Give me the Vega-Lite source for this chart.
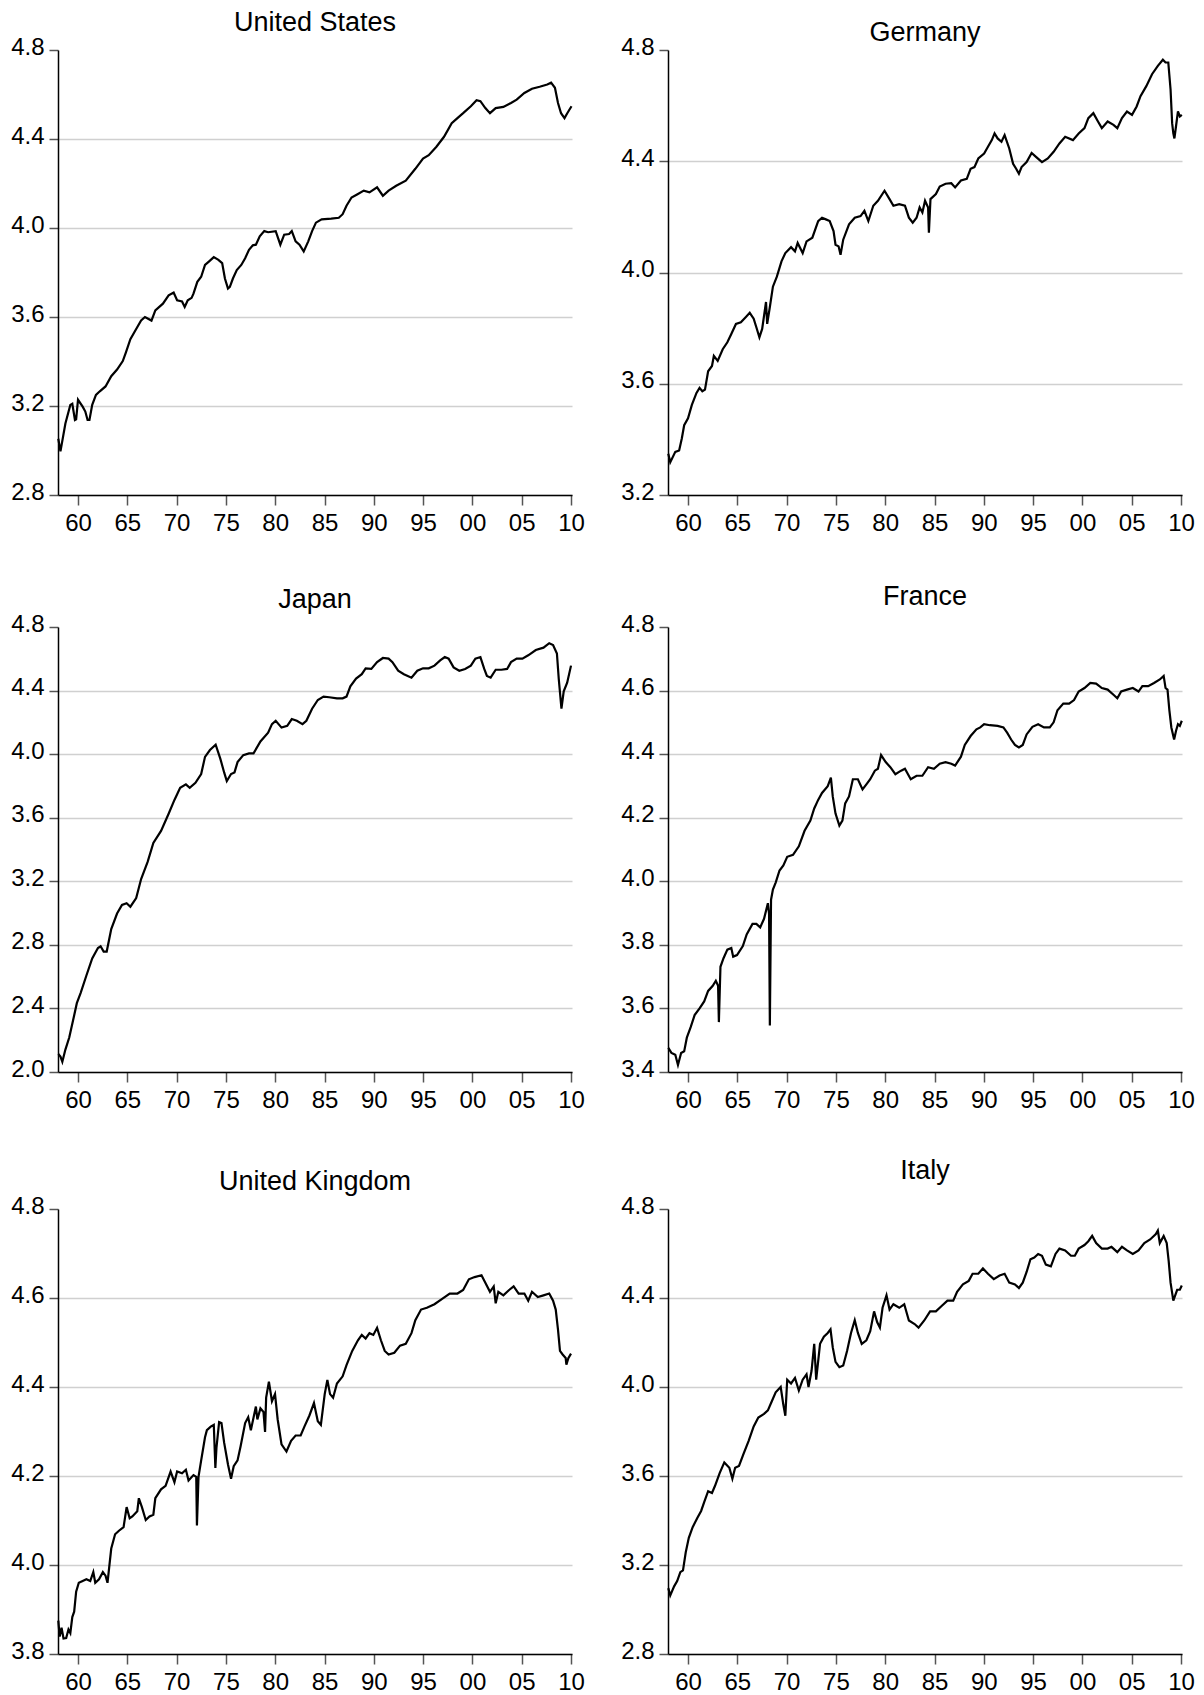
{
"$schema": "https://vega.github.io/schema/vega-lite/v6.json",
"background": "white",
"padding": {"left": 10, "top": 8, "right": 0, "bottom": 0},
"config": {
  "view": {"stroke": null},
  "font": "Liberation Sans",
  "title": {"font": "Liberation Sans", "fontSize": 27, "fontWeight": "normal", "color": "#000", "anchor": "middle", "frame": "group", "baseline": "alphabetic"},
  "axis": {"labelFont": "Liberation Sans", "labelFontSize": 24, "labelColor": "#000", "domainColor": "#000", "domainWidth": 1.5, "tickColor": "#555", "tickWidth": 1.5, "gridColor": "#d0d0d0", "gridWidth": 1.5, "labelFlush": false, "labelOverlap": false},
  "axisX": {"grid": false, "tickSize": 10, "labelPadding": 6.5},
  "axisY": {"tickSize": 9, "labelPadding": 5, "labelOffset": -3},
  "line": {"color": "#000", "strokeWidth": 2.2}
},
"datasets": {
"us": [{"t":1958.0,"v":3.053},{"t":1958.22,"v":2.996},{"t":1958.72,"v":3.121},{"t":1959.22,"v":3.205},{"t":1959.42,"v":3.21},{"t":1959.69,"v":3.137},{"t":1959.81,"v":3.14},{"t":1960.0,"v":3.228},{"t":1960.47,"v":3.197},{"t":1960.74,"v":3.175},{"t":1960.97,"v":3.137},{"t":1961.16,"v":3.137},{"t":1961.44,"v":3.205},{"t":1961.82,"v":3.25},{"t":1962.21,"v":3.266},{"t":1962.79,"v":3.288},{"t":1963.37,"v":3.334},{"t":1963.96,"v":3.364},{"t":1964.54,"v":3.402},{"t":1964.85,"v":3.44},{"t":1965.31,"v":3.5},{"t":1965.9,"v":3.546},{"t":1966.4,"v":3.584},{"t":1966.79,"v":3.6},{"t":1967.45,"v":3.584},{"t":1967.84,"v":3.63},{"t":1968.61,"v":3.66},{"t":1969.19,"v":3.697},{"t":1969.7,"v":3.71},{"t":1970.05,"v":3.675},{"t":1970.55,"v":3.67},{"t":1970.82,"v":3.645},{"t":1971.13,"v":3.675},{"t":1971.52,"v":3.686},{"t":1971.71,"v":3.705},{"t":1972.1,"v":3.758},{"t":1972.49,"v":3.781},{"t":1972.88,"v":3.834},{"t":1973.27,"v":3.849},{"t":1973.77,"v":3.869},{"t":1974.24,"v":3.857},{"t":1974.62,"v":3.842},{"t":1974.9,"v":3.773},{"t":1975.21,"v":3.728},{"t":1975.4,"v":3.735},{"t":1975.71,"v":3.773},{"t":1976.1,"v":3.811},{"t":1976.56,"v":3.834},{"t":1976.95,"v":3.864},{"t":1977.34,"v":3.902},{"t":1977.73,"v":3.922},{"t":1978.04,"v":3.925},{"t":1978.43,"v":3.963},{"t":1978.89,"v":3.986},{"t":1979.28,"v":3.981},{"t":1980.05,"v":3.986},{"t":1980.52,"v":3.925},{"t":1980.91,"v":3.97},{"t":1981.41,"v":3.973},{"t":1981.68,"v":3.986},{"t":1982.07,"v":3.94},{"t":1982.46,"v":3.925},{"t":1982.89,"v":3.895},{"t":1983.35,"v":3.94},{"t":1983.74,"v":3.986},{"t":1984.13,"v":4.024},{"t":1984.71,"v":4.039},{"t":1985.68,"v":4.042},{"t":1986.45,"v":4.046},{"t":1986.84,"v":4.062},{"t":1987.23,"v":4.1},{"t":1987.74,"v":4.137},{"t":1988.39,"v":4.153},{"t":1988.98,"v":4.168},{"t":1989.56,"v":4.16},{"t":1990.33,"v":4.183},{"t":1990.92,"v":4.145},{"t":1991.5,"v":4.168},{"t":1992.27,"v":4.19},{"t":1993.24,"v":4.213},{"t":1994.21,"v":4.266},{"t":1994.99,"v":4.312},{"t":1995.57,"v":4.327},{"t":1996.35,"v":4.365},{"t":1997.12,"v":4.41},{"t":1997.9,"v":4.471},{"t":1998.48,"v":4.494},{"t":1999.06,"v":4.516},{"t":1999.84,"v":4.547},{"t":2000.42,"v":4.574},{"t":2000.81,"v":4.57},{"t":2001.31,"v":4.539},{"t":2001.78,"v":4.516},{"t":2002.36,"v":4.539},{"t":2003.14,"v":4.544},{"t":2003.91,"v":4.562},{"t":2004.49,"v":4.577},{"t":2005.27,"v":4.607},{"t":2006.04,"v":4.626},{"t":2006.82,"v":4.635},{"t":2007.59,"v":4.645},{"t":2007.98,"v":4.653},{"t":2008.37,"v":4.63},{"t":2008.68,"v":4.562},{"t":2008.99,"v":4.516},{"t":2009.34,"v":4.494},{"t":2009.62,"v":4.516},{"t":2010.05,"v":4.547}],
"de": [{"t":1958.0,"v":3.348},{"t":1958.2,"v":3.318},{"t":1958.71,"v":3.355},{"t":1959.1,"v":3.36},{"t":1959.37,"v":3.403},{"t":1959.61,"v":3.451},{"t":1960.0,"v":3.476},{"t":1960.39,"v":3.524},{"t":1960.86,"v":3.567},{"t":1961.17,"v":3.585},{"t":1961.45,"v":3.573},{"t":1961.72,"v":3.579},{"t":1962.04,"v":3.645},{"t":1962.43,"v":3.664},{"t":1962.62,"v":3.7},{"t":1963.01,"v":3.682},{"t":1963.52,"v":3.724},{"t":1963.99,"v":3.749},{"t":1964.39,"v":3.779},{"t":1964.86,"v":3.815},{"t":1965.36,"v":3.821},{"t":1965.87,"v":3.84},{"t":1966.26,"v":3.855},{"t":1966.66,"v":3.834},{"t":1966.93,"v":3.803},{"t":1967.24,"v":3.767},{"t":1967.52,"v":3.797},{"t":1967.91,"v":3.894},{"t":1968.03,"v":3.815},{"t":1968.3,"v":3.876},{"t":1968.61,"v":3.949},{"t":1969.01,"v":3.985},{"t":1969.48,"v":4.04},{"t":1969.87,"v":4.07},{"t":1970.45,"v":4.091},{"t":1970.85,"v":4.076},{"t":1971.12,"v":4.106},{"t":1971.63,"v":4.07},{"t":1972.02,"v":4.112},{"t":1972.61,"v":4.125},{"t":1973.2,"v":4.185},{"t":1973.59,"v":4.197},{"t":1973.98,"v":4.191},{"t":1974.37,"v":4.185},{"t":1974.76,"v":4.149},{"t":1974.96,"v":4.1},{"t":1975.27,"v":4.094},{"t":1975.47,"v":4.064},{"t":1975.74,"v":4.118},{"t":1976.33,"v":4.173},{"t":1976.91,"v":4.197},{"t":1977.5,"v":4.203},{"t":1977.89,"v":4.222},{"t":1978.29,"v":4.185},{"t":1978.79,"v":4.24},{"t":1979.26,"v":4.258},{"t":1979.93,"v":4.294},{"t":1980.44,"v":4.264},{"t":1980.83,"v":4.24},{"t":1981.42,"v":4.246},{"t":1982.0,"v":4.24},{"t":1982.4,"v":4.197},{"t":1982.79,"v":4.179},{"t":1983.18,"v":4.197},{"t":1983.49,"v":4.234},{"t":1983.77,"v":4.216},{"t":1984.04,"v":4.258},{"t":1984.35,"v":4.234},{"t":1984.43,"v":4.143},{"t":1984.59,"v":4.264},{"t":1985.14,"v":4.282},{"t":1985.53,"v":4.309},{"t":1986.12,"v":4.319},{"t":1986.7,"v":4.321},{"t":1987.09,"v":4.306},{"t":1987.68,"v":4.331},{"t":1988.27,"v":4.337},{"t":1988.66,"v":4.373},{"t":1989.05,"v":4.379},{"t":1989.44,"v":4.41},{"t":1990.03,"v":4.428},{"t":1990.42,"v":4.452},{"t":1990.81,"v":4.476},{"t":1991.09,"v":4.5},{"t":1991.4,"v":4.482},{"t":1991.79,"v":4.47},{"t":1992.11,"v":4.494},{"t":1992.58,"v":4.446},{"t":1992.97,"v":4.391},{"t":1993.28,"v":4.373},{"t":1993.56,"v":4.355},{"t":1993.83,"v":4.379},{"t":1994.34,"v":4.397},{"t":1994.85,"v":4.43},{"t":1995.32,"v":4.415},{"t":1995.9,"v":4.397},{"t":1996.49,"v":4.41},{"t":1997.08,"v":4.434},{"t":1997.67,"v":4.464},{"t":1998.25,"v":4.488},{"t":1999.04,"v":4.476},{"t":1999.62,"v":4.5},{"t":2000.21,"v":4.519},{"t":2000.6,"v":4.555},{"t":2001.11,"v":4.573},{"t":2001.58,"v":4.543},{"t":2001.97,"v":4.519},{"t":2002.56,"v":4.543},{"t":2003.15,"v":4.531},{"t":2003.54,"v":4.519},{"t":2004.01,"v":4.555},{"t":2004.52,"v":4.579},{"t":2005.03,"v":4.567},{"t":2005.5,"v":4.597},{"t":2005.89,"v":4.634},{"t":2006.48,"v":4.67},{"t":2007.06,"v":4.713},{"t":2007.65,"v":4.743},{"t":2008.16,"v":4.765},{"t":2008.43,"v":4.755},{"t":2008.71,"v":4.755},{"t":2008.94,"v":4.658},{"t":2009.1,"v":4.537},{"t":2009.22,"v":4.5},{"t":2009.33,"v":4.482},{"t":2009.49,"v":4.525},{"t":2009.69,"v":4.579},{"t":2009.88,"v":4.561},{"t":2010.08,"v":4.567}],
"jp": [{"t":1958.0,"v":2.113},{"t":1958.22,"v":2.097},{"t":1958.41,"v":2.065},{"t":1958.72,"v":2.141},{"t":1959.11,"v":2.217},{"t":1959.5,"v":2.325},{"t":1959.88,"v":2.433},{"t":1960.27,"v":2.498},{"t":1960.85,"v":2.607},{"t":1961.44,"v":2.715},{"t":1962.02,"v":2.78},{"t":1962.29,"v":2.791},{"t":1962.6,"v":2.758},{"t":1962.91,"v":2.758},{"t":1963.37,"v":2.899},{"t":1963.96,"v":2.997},{"t":1964.46,"v":3.051},{"t":1964.93,"v":3.062},{"t":1965.31,"v":3.04},{"t":1965.9,"v":3.094},{"t":1966.4,"v":3.214},{"t":1967.06,"v":3.322},{"t":1967.64,"v":3.441},{"t":1968.42,"v":3.517},{"t":1969.19,"v":3.625},{"t":1969.78,"v":3.712},{"t":1970.36,"v":3.788},{"t":1970.94,"v":3.81},{"t":1971.33,"v":3.788},{"t":1971.91,"v":3.82},{"t":1972.49,"v":3.875},{"t":1972.88,"v":3.983},{"t":1973.38,"v":4.026},{"t":1973.96,"v":4.059},{"t":1974.43,"v":3.972},{"t":1974.82,"v":3.885},{"t":1975.09,"v":3.831},{"t":1975.52,"v":3.875},{"t":1975.87,"v":3.885},{"t":1976.18,"v":3.95},{"t":1976.76,"v":3.994},{"t":1977.34,"v":4.005},{"t":1977.8,"v":4.005},{"t":1978.5,"v":4.08},{"t":1979.28,"v":4.135},{"t":1979.67,"v":4.189},{"t":1980.05,"v":4.21},{"t":1980.64,"v":4.167},{"t":1981.22,"v":4.178},{"t":1981.68,"v":4.221},{"t":1982.19,"v":4.21},{"t":1982.77,"v":4.189},{"t":1983.16,"v":4.21},{"t":1983.74,"v":4.286},{"t":1984.32,"v":4.341},{"t":1984.9,"v":4.362},{"t":1985.48,"v":4.358},{"t":1986.26,"v":4.351},{"t":1986.84,"v":4.351},{"t":1987.23,"v":4.362},{"t":1987.62,"v":4.427},{"t":1988.2,"v":4.475},{"t":1988.78,"v":4.503},{"t":1989.17,"v":4.54},{"t":1989.75,"v":4.536},{"t":1990.33,"v":4.579},{"t":1990.92,"v":4.605},{"t":1991.5,"v":4.601},{"t":1991.89,"v":4.579},{"t":1992.47,"v":4.525},{"t":1993.05,"v":4.503},{"t":1993.82,"v":4.481},{"t":1994.41,"v":4.525},{"t":1994.99,"v":4.54},{"t":1995.57,"v":4.54},{"t":1996.15,"v":4.557},{"t":1996.73,"v":4.59},{"t":1997.2,"v":4.611},{"t":1997.59,"v":4.601},{"t":1998.09,"v":4.546},{"t":1998.67,"v":4.525},{"t":1999.26,"v":4.536},{"t":1999.84,"v":4.557},{"t":2000.3,"v":4.601},{"t":2000.81,"v":4.611},{"t":2001.2,"v":4.536},{"t":2001.47,"v":4.492},{"t":2001.85,"v":4.481},{"t":2002.36,"v":4.531},{"t":2002.94,"v":4.531},{"t":2003.52,"v":4.536},{"t":2003.91,"v":4.579},{"t":2004.49,"v":4.601},{"t":2005.07,"v":4.601},{"t":2005.66,"v":4.622},{"t":2006.43,"v":4.655},{"t":2007.21,"v":4.67},{"t":2007.79,"v":4.698},{"t":2008.18,"v":4.687},{"t":2008.57,"v":4.633},{"t":2008.76,"v":4.471},{"t":2009.03,"v":4.286},{"t":2009.26,"v":4.395},{"t":2009.61,"v":4.449},{"t":2010.0,"v":4.557}],
"fr": [{"t":1958.0,"v":3.476},{"t":1958.32,"v":3.46},{"t":1958.71,"v":3.454},{"t":1958.98,"v":3.422},{"t":1959.3,"v":3.46},{"t":1959.61,"v":3.465},{"t":1959.88,"v":3.508},{"t":1960.27,"v":3.541},{"t":1960.67,"v":3.579},{"t":1961.17,"v":3.6},{"t":1961.64,"v":3.622},{"t":1962.04,"v":3.655},{"t":1962.51,"v":3.671},{"t":1962.82,"v":3.687},{"t":1963.05,"v":3.671},{"t":1963.13,"v":3.557},{"t":1963.29,"v":3.731},{"t":1963.6,"v":3.758},{"t":1963.99,"v":3.785},{"t":1964.39,"v":3.79},{"t":1964.58,"v":3.763},{"t":1964.97,"v":3.768},{"t":1965.56,"v":3.796},{"t":1965.95,"v":3.833},{"t":1966.54,"v":3.866},{"t":1966.93,"v":3.866},{"t":1967.32,"v":3.855},{"t":1967.71,"v":3.882},{"t":1968.1,"v":3.931},{"t":1968.22,"v":3.898},{"t":1968.3,"v":3.546},{"t":1968.42,"v":3.942},{"t":1968.61,"v":3.974},{"t":1968.89,"v":3.996},{"t":1969.28,"v":4.034},{"t":1969.67,"v":4.05},{"t":1970.06,"v":4.077},{"t":1970.65,"v":4.083},{"t":1971.24,"v":4.11},{"t":1971.82,"v":4.159},{"t":1972.41,"v":4.191},{"t":1972.8,"v":4.229},{"t":1973.2,"v":4.256},{"t":1973.59,"v":4.278},{"t":1974.17,"v":4.299},{"t":1974.49,"v":4.326},{"t":1974.68,"v":4.267},{"t":1974.96,"v":4.213},{"t":1975.35,"v":4.175},{"t":1975.66,"v":4.191},{"t":1975.94,"v":4.245},{"t":1976.33,"v":4.267},{"t":1976.72,"v":4.321},{"t":1977.23,"v":4.321},{"t":1977.7,"v":4.289},{"t":1978.09,"v":4.305},{"t":1978.48,"v":4.321},{"t":1978.95,"v":4.348},{"t":1979.26,"v":4.354},{"t":1979.58,"v":4.397},{"t":1980.05,"v":4.375},{"t":1980.52,"v":4.359},{"t":1981.03,"v":4.337},{"t":1981.61,"v":4.348},{"t":1982.0,"v":4.354},{"t":1982.59,"v":4.321},{"t":1983.18,"v":4.332},{"t":1983.77,"v":4.332},{"t":1984.35,"v":4.359},{"t":1984.94,"v":4.354},{"t":1985.53,"v":4.37},{"t":1986.12,"v":4.375},{"t":1986.7,"v":4.37},{"t":1987.09,"v":4.364},{"t":1987.68,"v":4.392},{"t":1988.07,"v":4.429},{"t":1988.66,"v":4.457},{"t":1989.25,"v":4.478},{"t":1989.64,"v":4.484},{"t":1990.03,"v":4.494},{"t":1990.62,"v":4.491},{"t":1991.4,"v":4.489},{"t":1991.99,"v":4.484},{"t":1992.38,"v":4.467},{"t":1992.77,"v":4.446},{"t":1993.16,"v":4.429},{"t":1993.56,"v":4.421},{"t":1993.95,"v":4.429},{"t":1994.34,"v":4.462},{"t":1994.93,"v":4.486},{"t":1995.51,"v":4.494},{"t":1996.1,"v":4.484},{"t":1996.69,"v":4.484},{"t":1997.08,"v":4.5},{"t":1997.47,"v":4.538},{"t":1998.06,"v":4.559},{"t":1998.65,"v":4.559},{"t":1999.15,"v":4.57},{"t":1999.62,"v":4.597},{"t":2000.21,"v":4.608},{"t":2000.8,"v":4.624},{"t":2001.39,"v":4.622},{"t":2001.97,"v":4.608},{"t":2002.56,"v":4.603},{"t":2003.15,"v":4.587},{"t":2003.54,"v":4.576},{"t":2003.93,"v":4.597},{"t":2004.52,"v":4.603},{"t":2005.11,"v":4.608},{"t":2005.69,"v":4.597},{"t":2006.08,"v":4.614},{"t":2006.67,"v":4.614},{"t":2007.26,"v":4.624},{"t":2007.85,"v":4.635},{"t":2008.24,"v":4.646},{"t":2008.43,"v":4.608},{"t":2008.63,"v":4.603},{"t":2008.82,"v":4.538},{"t":2009.02,"v":4.484},{"t":2009.3,"v":4.446},{"t":2009.49,"v":4.473},{"t":2009.69,"v":4.494},{"t":2009.88,"v":4.489},{"t":2010.08,"v":4.505}],
"uk": [{"t":1958.0,"v":3.875},{"t":1958.14,"v":3.839},{"t":1958.33,"v":3.859},{"t":1958.53,"v":3.835},{"t":1958.8,"v":3.836},{"t":1959.03,"v":3.855},{"t":1959.22,"v":3.847},{"t":1959.42,"v":3.883},{"t":1959.61,"v":3.895},{"t":1959.81,"v":3.94},{"t":1960.08,"v":3.96},{"t":1960.47,"v":3.964},{"t":1960.85,"v":3.968},{"t":1961.24,"v":3.964},{"t":1961.55,"v":3.984},{"t":1961.75,"v":3.96},{"t":1962.13,"v":3.968},{"t":1962.52,"v":3.984},{"t":1962.79,"v":3.976},{"t":1962.99,"v":3.96},{"t":1963.37,"v":4.037},{"t":1963.76,"v":4.069},{"t":1964.15,"v":4.077},{"t":1964.62,"v":4.085},{"t":1964.93,"v":4.13},{"t":1965.24,"v":4.105},{"t":1965.51,"v":4.109},{"t":1966.01,"v":4.121},{"t":1966.17,"v":4.15},{"t":1966.48,"v":4.13},{"t":1966.87,"v":4.101},{"t":1967.25,"v":4.109},{"t":1967.64,"v":4.113},{"t":1967.84,"v":4.15},{"t":1968.42,"v":4.17},{"t":1968.88,"v":4.178},{"t":1969.39,"v":4.21},{"t":1969.78,"v":4.186},{"t":1970.05,"v":4.21},{"t":1970.55,"v":4.206},{"t":1970.94,"v":4.214},{"t":1971.21,"v":4.19},{"t":1971.71,"v":4.202},{"t":1971.99,"v":4.198},{"t":1972.06,"v":4.089},{"t":1972.22,"v":4.198},{"t":1972.49,"v":4.235},{"t":1972.88,"v":4.287},{"t":1973.07,"v":4.303},{"t":1973.46,"v":4.311},{"t":1973.77,"v":4.315},{"t":1973.93,"v":4.218},{"t":1974.04,"v":4.263},{"t":1974.31,"v":4.321},{"t":1974.55,"v":4.319},{"t":1974.82,"v":4.275},{"t":1975.21,"v":4.226},{"t":1975.52,"v":4.194},{"t":1975.79,"v":4.222},{"t":1976.18,"v":4.235},{"t":1976.49,"v":4.267},{"t":1976.95,"v":4.319},{"t":1977.26,"v":4.332},{"t":1977.53,"v":4.303},{"t":1978.04,"v":4.356},{"t":1978.19,"v":4.327},{"t":1978.5,"v":4.352},{"t":1978.81,"v":4.344},{"t":1978.97,"v":4.299},{"t":1979.08,"v":4.376},{"t":1979.36,"v":4.412},{"t":1979.67,"v":4.368},{"t":1979.98,"v":4.384},{"t":1980.25,"v":4.327},{"t":1980.64,"v":4.271},{"t":1981.14,"v":4.255},{"t":1981.61,"v":4.279},{"t":1982.07,"v":4.291},{"t":1982.58,"v":4.291},{"t":1982.96,"v":4.311},{"t":1983.47,"v":4.336},{"t":1983.93,"v":4.364},{"t":1984.32,"v":4.323},{"t":1984.63,"v":4.315},{"t":1985.02,"v":4.384},{"t":1985.29,"v":4.416},{"t":1985.56,"v":4.384},{"t":1985.87,"v":4.376},{"t":1986.26,"v":4.408},{"t":1986.84,"v":4.424},{"t":1987.23,"v":4.449},{"t":1987.81,"v":4.481},{"t":1988.39,"v":4.505},{"t":1988.78,"v":4.517},{"t":1989.17,"v":4.509},{"t":1989.56,"v":4.521},{"t":1989.95,"v":4.517},{"t":1990.33,"v":4.533},{"t":1990.72,"v":4.505},{"t":1991.11,"v":4.481},{"t":1991.5,"v":4.473},{"t":1992.08,"v":4.477},{"t":1992.66,"v":4.493},{"t":1993.24,"v":4.497},{"t":1993.82,"v":4.521},{"t":1994.21,"v":4.55},{"t":1994.79,"v":4.574},{"t":1995.38,"v":4.578},{"t":1996.15,"v":4.586},{"t":1996.93,"v":4.598},{"t":1997.7,"v":4.61},{"t":1998.48,"v":4.61},{"t":1999.06,"v":4.618},{"t":1999.64,"v":4.642},{"t":2000.22,"v":4.647},{"t":2000.92,"v":4.651},{"t":2001.31,"v":4.634},{"t":2001.78,"v":4.614},{"t":2002.16,"v":4.626},{"t":2002.36,"v":4.588},{"t":2002.63,"v":4.614},{"t":2003.14,"v":4.606},{"t":2003.72,"v":4.618},{"t":2004.18,"v":4.626},{"t":2004.69,"v":4.61},{"t":2005.27,"v":4.61},{"t":2005.66,"v":4.594},{"t":2006.04,"v":4.614},{"t":2006.63,"v":4.602},{"t":2007.21,"v":4.606},{"t":2007.79,"v":4.61},{"t":2008.18,"v":4.594},{"t":2008.45,"v":4.574},{"t":2008.68,"v":4.529},{"t":2008.88,"v":4.481},{"t":2009.15,"v":4.473},{"t":2009.46,"v":4.465},{"t":2009.53,"v":4.45},{"t":2009.73,"v":4.465},{"t":2010.0,"v":4.475}],
"it": [{"t":1958.0,"v":3.096},{"t":1958.2,"v":3.063},{"t":1958.59,"v":3.104},{"t":1958.9,"v":3.128},{"t":1959.22,"v":3.168},{"t":1959.49,"v":3.176},{"t":1959.77,"v":3.257},{"t":1960.08,"v":3.322},{"t":1960.47,"v":3.37},{"t":1960.94,"v":3.411},{"t":1961.33,"v":3.443},{"t":1961.64,"v":3.483},{"t":1962.04,"v":3.532},{"t":1962.43,"v":3.524},{"t":1962.74,"v":3.556},{"t":1963.21,"v":3.613},{"t":1963.68,"v":3.661},{"t":1964.19,"v":3.637},{"t":1964.5,"v":3.588},{"t":1964.78,"v":3.637},{"t":1965.17,"v":3.645},{"t":1965.64,"v":3.701},{"t":1966.15,"v":3.758},{"t":1966.66,"v":3.823},{"t":1967.13,"v":3.863},{"t":1967.71,"v":3.879},{"t":1968.1,"v":3.895},{"t":1968.5,"v":3.936},{"t":1968.89,"v":3.976},{"t":1969.4,"v":4.0},{"t":1969.67,"v":3.92},{"t":1969.87,"v":3.871},{"t":1970.06,"v":4.033},{"t":1970.45,"v":4.016},{"t":1970.85,"v":4.041},{"t":1971.24,"v":3.984},{"t":1971.63,"v":4.033},{"t":1972.02,"v":4.057},{"t":1972.22,"v":4.0},{"t":1972.53,"v":4.073},{"t":1972.8,"v":4.194},{"t":1973.0,"v":4.033},{"t":1973.39,"v":4.194},{"t":1973.78,"v":4.226},{"t":1974.17,"v":4.243},{"t":1974.45,"v":4.259},{"t":1974.68,"v":4.178},{"t":1974.96,"v":4.113},{"t":1975.35,"v":4.089},{"t":1975.74,"v":4.097},{"t":1976.13,"v":4.162},{"t":1976.53,"v":4.243},{"t":1976.91,"v":4.3},{"t":1977.23,"v":4.243},{"t":1977.62,"v":4.194},{"t":1978.09,"v":4.21},{"t":1978.48,"v":4.251},{"t":1978.87,"v":4.34},{"t":1979.19,"v":4.291},{"t":1979.46,"v":4.267},{"t":1979.73,"v":4.356},{"t":1980.13,"v":4.412},{"t":1980.44,"v":4.348},{"t":1980.83,"v":4.372},{"t":1981.42,"v":4.356},{"t":1981.93,"v":4.372},{"t":1982.4,"v":4.299},{"t":1982.98,"v":4.283},{"t":1983.38,"v":4.267},{"t":1983.96,"v":4.299},{"t":1984.55,"v":4.34},{"t":1985.14,"v":4.34},{"t":1985.72,"v":4.364},{"t":1986.31,"v":4.388},{"t":1986.9,"v":4.388},{"t":1987.29,"v":4.428},{"t":1987.88,"v":4.461},{"t":1988.47,"v":4.477},{"t":1988.86,"v":4.509},{"t":1989.44,"v":4.509},{"t":1989.91,"v":4.533},{"t":1990.42,"v":4.509},{"t":1991.01,"v":4.485},{"t":1991.6,"v":4.501},{"t":1992.11,"v":4.509},{"t":1992.58,"v":4.469},{"t":1993.16,"v":4.461},{"t":1993.56,"v":4.445},{"t":1993.95,"v":4.469},{"t":1994.34,"v":4.517},{"t":1994.73,"v":4.574},{"t":1995.12,"v":4.582},{"t":1995.51,"v":4.598},{"t":1995.9,"v":4.59},{"t":1996.29,"v":4.55},{"t":1996.8,"v":4.542},{"t":1997.27,"v":4.598},{"t":1997.67,"v":4.622},{"t":1998.25,"v":4.614},{"t":1998.84,"v":4.59},{"t":1999.23,"v":4.59},{"t":1999.62,"v":4.622},{"t":2000.21,"v":4.638},{"t":2000.6,"v":4.655},{"t":2000.99,"v":4.679},{"t":2001.39,"v":4.647},{"t":2001.97,"v":4.622},{"t":2002.56,"v":4.622},{"t":2002.95,"v":4.63},{"t":2003.54,"v":4.606},{"t":2004.01,"v":4.63},{"t":2004.52,"v":4.614},{"t":2005.11,"v":4.598},{"t":2005.69,"v":4.614},{"t":2006.28,"v":4.647},{"t":2006.87,"v":4.663},{"t":2007.45,"v":4.687},{"t":2007.65,"v":4.703},{"t":2007.85,"v":4.647},{"t":2008.24,"v":4.679},{"t":2008.55,"v":4.647},{"t":2008.75,"v":4.566},{"t":2008.94,"v":4.469},{"t":2009.22,"v":4.388},{"t":2009.41,"v":4.412},{"t":2009.61,"v":4.437},{"t":2009.88,"v":4.437},{"t":2010.08,"v":4.456}]
},
"spacing": 577,
"bounds": "flush",
"vconcat": [
  {"hconcat": [
    {"title": {"text": "United States", "offset": -1.5}, "width": 514, "height": 445, "data": {"name": "us"}, "mark": "line",
     "encoding": {"x": {"field": "t", "type": "quantitative", "scale": {"domain": [1957.97, 2010.1], "nice": false, "zero": false}, "axis": {"title": null, "values": [1960,1965,1970,1975,1980,1985,1990,1995,2000,2005,2010], "format": "d", "labelExpr": "substring(datum.label, 2, 4)"}},
                  "y": {"field": "v", "type": "quantitative", "scale": {"domain": [2.8, 4.8], "nice": false, "zero": false}, "axis": {"title": null, "values": [2.8,3.2,3.6,4.0,4.4,4.8], "format": ".1f", "gridOpacity": {"condition": {"test": "datum.value > 4.79", "value": 0}, "value": 1}}}}},
    {"title": {"text": "Germany", "offset": -12}, "width": 514, "height": 445, "data": {"name": "de"}, "mark": "line",
     "encoding": {"x": {"field": "t", "type": "quantitative", "scale": {"domain": [1957.97, 2010.1], "nice": false, "zero": false}, "axis": {"title": null, "values": [1960,1965,1970,1975,1980,1985,1990,1995,2000,2005,2010], "format": "d", "labelExpr": "substring(datum.label, 2, 4)"}},
                  "y": {"field": "v", "type": "quantitative", "scale": {"domain": [3.2, 4.8], "nice": false, "zero": false}, "axis": {"title": null, "values": [3.2,3.6,4.0,4.4,4.8], "format": ".1f", "gridOpacity": {"condition": {"test": "datum.value > 4.79", "value": 0}, "value": 1}}}}}
  ], "spacing": 96, "bounds": "flush"},
  {"vconcat": [
    {"hconcat": [
      {"title": {"text": "Japan", "offset": -1.5}, "width": 514, "height": 445, "data": {"name": "jp"}, "mark": "line",
       "encoding": {"x": {"field": "t", "type": "quantitative", "scale": {"domain": [1957.97, 2010.1], "nice": false, "zero": false}, "axis": {"title": null, "values": [1960,1965,1970,1975,1980,1985,1990,1995,2000,2005,2010], "format": "d", "labelExpr": "substring(datum.label, 2, 4)"}},
                    "y": {"field": "v", "type": "quantitative", "scale": {"domain": [2.0, 4.8], "nice": false, "zero": false}, "axis": {"title": null, "values": [2.0,2.4,2.8,3.2,3.6,4.0,4.4,4.8], "format": ".1f", "gridOpacity": {"condition": {"test": "datum.value > 4.79", "value": 0}, "value": 1}}}}},
      {"title": {"text": "France", "offset": 1.5}, "width": 514, "height": 445, "data": {"name": "fr"}, "mark": "line",
       "encoding": {"x": {"field": "t", "type": "quantitative", "scale": {"domain": [1957.97, 2010.1], "nice": false, "zero": false}, "axis": {"title": null, "values": [1960,1965,1970,1975,1980,1985,1990,1995,2000,2005,2010], "format": "d", "labelExpr": "substring(datum.label, 2, 4)"}},
                    "y": {"field": "v", "type": "quantitative", "scale": {"domain": [3.4, 4.8], "nice": false, "zero": false}, "axis": {"title": null, "values": [3.4,3.6,3.8,4.0,4.2,4.4,4.6,4.8], "format": ".1f", "gridOpacity": {"condition": {"test": "datum.value > 4.79", "value": 0}, "value": 1}}}}}
    ], "spacing": 96, "bounds": "flush"},
    {"hconcat": [
      {"title": {"text": "United Kingdom", "offset": -1.5}, "width": 514, "height": 445, "data": {"name": "uk"}, "mark": "line",
       "encoding": {"x": {"field": "t", "type": "quantitative", "scale": {"domain": [1957.97, 2010.1], "nice": false, "zero": false}, "axis": {"title": null, "values": [1960,1965,1970,1975,1980,1985,1990,1995,2000,2005,2010], "format": "d", "labelExpr": "substring(datum.label, 2, 4)"}},
                    "y": {"field": "v", "type": "quantitative", "scale": {"domain": [3.8, 4.8], "nice": false, "zero": false}, "axis": {"title": null, "values": [3.8,4.0,4.2,4.4,4.6,4.8], "format": ".1f", "gridOpacity": {"condition": {"test": "datum.value > 4.79", "value": 0}, "value": 1}}}}},
      {"title": {"text": "Italy", "offset": 9.5}, "width": 514, "height": 445, "data": {"name": "it"}, "mark": "line",
       "encoding": {"x": {"field": "t", "type": "quantitative", "scale": {"domain": [1957.97, 2010.1], "nice": false, "zero": false}, "axis": {"title": null, "values": [1960,1965,1970,1975,1980,1985,1990,1995,2000,2005,2010], "format": "d", "labelExpr": "substring(datum.label, 2, 4)"}},
                    "y": {"field": "v", "type": "quantitative", "scale": {"domain": [2.8, 4.8], "nice": false, "zero": false}, "axis": {"title": null, "values": [2.8,3.2,3.6,4.0,4.4,4.8], "format": ".1f", "gridOpacity": {"condition": {"test": "datum.value > 4.79", "value": 0}, "value": 1}}}}}
    ], "spacing": 96, "bounds": "flush"}
  ], "spacing": 582, "bounds": "flush"}
]
}
